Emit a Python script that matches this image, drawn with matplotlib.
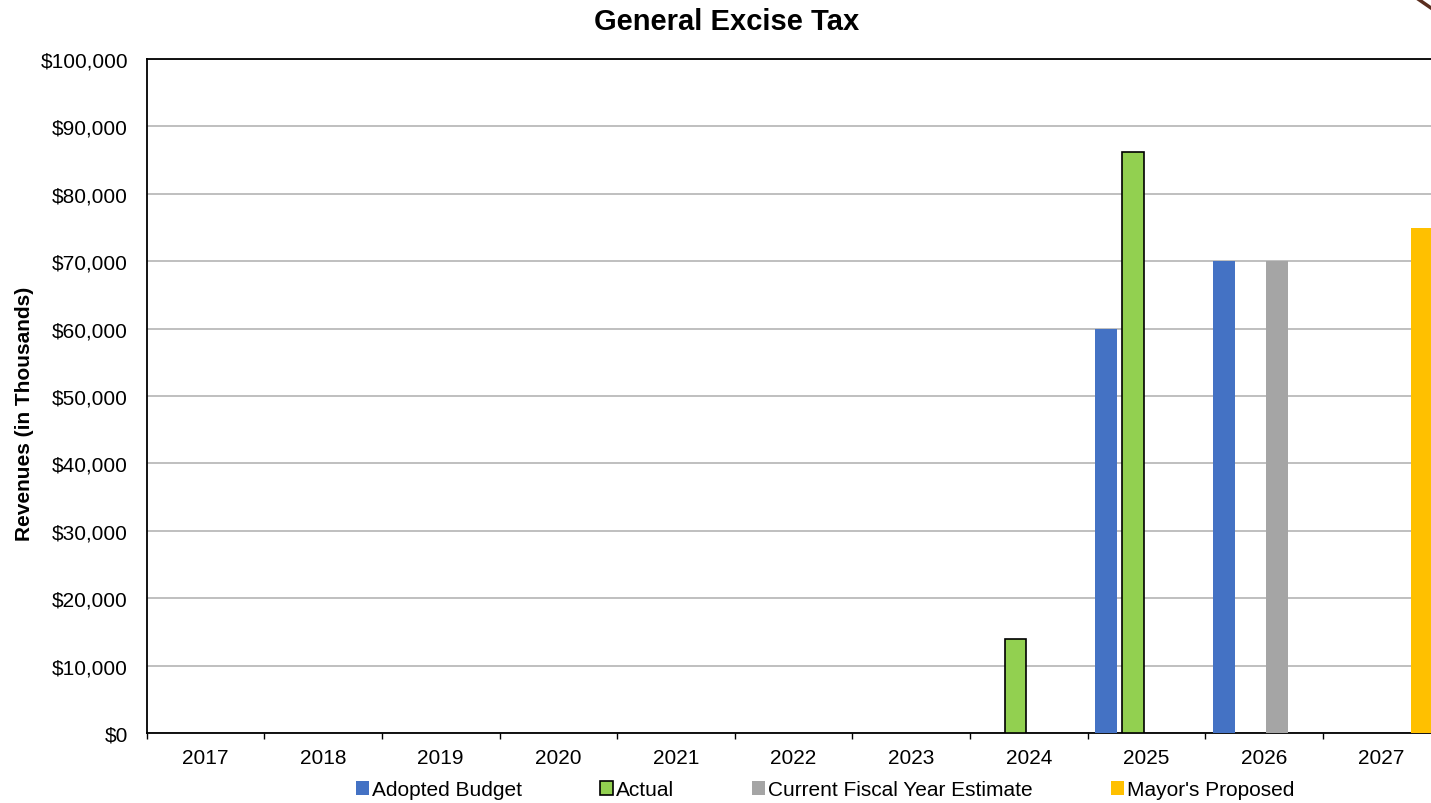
import matplotlib
matplotlib.use("Agg")
import matplotlib.pyplot as plt
import numpy as np
from matplotlib.ticker import FuncFormatter, FixedLocator
from matplotlib.lines import Line2D

plt.rcParams['font.family'] = ['Liberation Sans', 'DejaVu Sans']

years = ['2017', '2018', '2019', '2020', '2021', '2022', '2023', '2024', '2025', '2026', '2027']
adopted_budget = [0, 0, 0, 0, 0, 0, 0, 0, 60000, 70000, 0]
actual = [0, 0, 0, 0, 0, 0, 0, 13900, 86200, 0, 0]
current_estimate = [0, 0, 0, 0, 0, 0, 0, 0, 0, 70000, 0]
mayors_proposed = [0, 0, 0, 0, 0, 0, 0, 0, 0, 0, 75000]

series = [
    ("Adopted Budget", adopted_budget, "#4472C4", "none", 0),
    ("Actual", actual, "#92D050", "#000000", 1.2),
    ("Current Fiscal Year Estimate", current_estimate, "#A5A5A5", "none", 0),
    ("Mayor's Proposed", mayors_proposed, "#FFC000", "none", 0),
]

W, H = 1431, 804
fig = plt.figure(figsize=(W / 100, H / 100), dpi=100)
left = 146.7 / W
right = 1440.3 / W
bottom = 1 - 734 / H
top = 1 - 60 / H
ax = fig.add_axes([left, bottom, right - left, top - bottom])

FS = 15

x = np.arange(len(years))
offsets = [-0.3405, -0.1135, 0.1135, 0.3405]
width = 0.183
handles = []
for (name, vals, color, ec, lw), off in zip(series, offsets):
    vals = np.array(vals, dtype=float)
    mask = vals > 0
    ax.bar(x[mask] + off, vals[mask], width=width, color=color,
           edgecolor=ec, linewidth=lw, zorder=3)
    handles.append(plt.Rectangle((0, 0), 1, 1, facecolor=color,
                                 edgecolor=ec if ec != "none" else color,
                                 linewidth=lw if lw else 0))

ax.set_xlim(-0.5, len(years) - 0.5)
ax.set_ylim(0, 100000)
ax.yaxis.set_major_locator(FixedLocator(np.arange(0, 100001, 10000)))
ax.yaxis.set_major_formatter(FuncFormatter(lambda v, p: f"${v:,.0f}"))
ax.set_xticks(x)
ax.set_xticklabels(years)
ax.set_xticks(np.arange(-0.5, len(years) + 0.5, 1), minor=True)
ax.tick_params(axis='x', which='major', length=0, pad=10.5, labelsize=FS)
ax.tick_params(axis='x', which='minor', length=4.5, width=1, direction='out', color='#000000')
ax.tick_params(axis='y', which='major', length=0, pad=13.5, labelsize=FS)

ax.grid(axis='y', color='#BFBFBF', linewidth=1.4, zorder=0)
ax.set_axisbelow(True)
for s in ['top', 'left', 'bottom']:
    ax.spines[s].set_color('#000000')
    ax.spines[s].set_linewidth(1.3)
ax.spines['right'].set_visible(False)

fig.text(727 / W, 1 - 22 / H, "General Excise Tax", ha='center', va='center',
         fontsize=21, fontweight='bold')
fig.text(25 / W, 1 - 413.5 / H, "Revenues (in Thousands)", ha='center', va='center',
         rotation=90, fontsize=FS, fontweight='bold')

leg = fig.legend(handles, [s[0] for s in series], ncol=4, loc='center',
                 bbox_to_anchor=(825 / W, 1 - 791 / H), frameon=False,
                 fontsize=FS, handlelength=0.62, handleheight=0.62,
                 handletextpad=0.15, columnspacing=3.75, borderpad=0, borderaxespad=0)

fig.add_artist(Line2D([1418 / W, 1431 / W], [1.0, 1 - 9 / H], color='#5A2E1E',
                      linewidth=2.5, transform=fig.transFigure))

fig.savefig("out.png", dpi=100)
